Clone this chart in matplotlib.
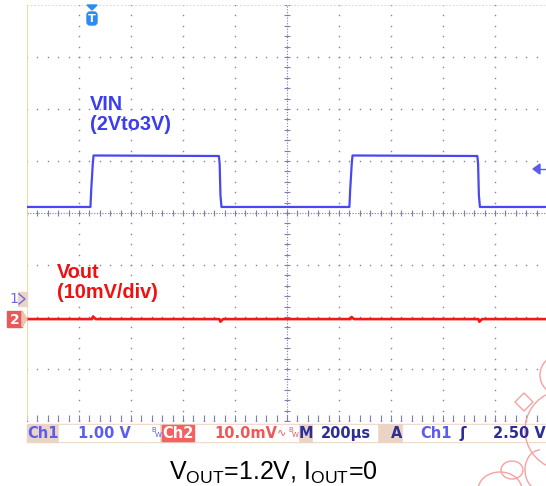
import numpy as np
import matplotlib.pyplot as plt
from matplotlib.patches import Rectangle, Polygon, FancyBboxPatch, Arc, Ellipse

# ---- waveform data (time in us, trigger at t=0) ----
t_vin = [-250, -6, -3, 3, 6, 488, 491, 494, 498, 990, 993, 999, 1002,
         1482, 1485, 1488, 1492, 1750]
v_vin = [1.77, 1.77, 2.10, 2.60, 2.76, 2.75, 2.60, 2.00, 1.77, 1.77, 2.10,
         2.60, 2.76, 2.75, 2.60, 2.00, 1.77, 1.77]          # V

t_vout = [-250, 0, 4, 14, 490, 494, 504, 994, 998, 1008, 1486, 1490, 1500, 1750]
v_vout = [0.0, 0.0, 0.5, 0.0, 0.0, -0.5, 0.0, 0.0, 0.4, 0.0, 0.0, -0.5, 0.0, 0.0]  # mV

# scope settings
ch1_scale, ch1_pos = 1.0, -1.654     # V/div, div
ch2_scale, ch2_pos = 10.0, -2.04     # mV/div, div
t_left, t_div = -250, 200            # us

fig = plt.figure(figsize=(5.46, 4.86), dpi=100)
ax = fig.add_axes([27/546, 65/486, 520/546, 416/486])
ax.set_xlim(t_left, t_left + 10*t_div)
ax.set_ylim(-4, 4)
ax.axis('off')

# graticule
gc = '#7e7eb6'
ys_dots = np.arange(-4, 4.001, 0.2)
xs_dots = np.arange(t_left, t_left + 10*t_div + 0.1, t_div/5)
for k in range(1, 11):
    xm = t_left + k*t_div
    ax.plot(np.full_like(ys_dots, xm), ys_dots, ls='none', marker='s', ms=1.0, mew=0, color=gc)
for ym in range(-4, 4):
    ax.plot(xs_dots, np.full_like(xs_dots, ym), ls='none', marker='s', ms=1.0, mew=0, color=gc)
# center cross with minor ticks
xc = t_left + 5*t_div
ax.plot([xc, xc], [-4, 4], color=gc, lw=0.8, ls=(0, (1, 1.5)))
ax.plot([t_left, t_left + 10*t_div], [0, 0], color=gc, lw=0.8, ls=(0, (1, 1.5)))
ax.plot(np.full_like(ys_dots, xc), ys_dots, ls='none', marker='_', ms=5, mew=0.8, color=gc)
ax.plot(xs_dots, np.zeros_like(xs_dots), ls='none', marker='|', ms=5, mew=0.8, color=gc)
ax.plot(xs_dots, np.full_like(xs_dots, -4), ls='none', marker=2, ms=4, mew=0.8, color=gc)
ax.plot([t_left, t_left + 10*t_div], [-4, -4], color=gc, lw=0.8, ls=(0, (1, 1.5)))
# pale yellow frame
ax.plot([t_left, t_left], [-4, 4], color='#e6dc98', lw=1.3)
ax.plot([t_left, t_left + 10*t_div], [4, 4], color='#e6dc98', lw=1.3, ls=(0, (1, 1)))

# traces
ax.plot(t_vin, np.array(v_vin)/ch1_scale + ch1_pos, color='#4848f2', lw=1.6, zorder=5)
ax.plot(t_vout, np.array(v_vout)/ch2_scale + ch2_pos, color='#f01818', lw=1.9, zorder=5)

# ---- overlay in pixel coordinates ----
ov = fig.add_axes([0, 0, 1, 1], zorder=10)
ov.set_xlim(0, 546)
ov.set_ylim(486, 0)
ov.axis('off')
ov.patch.set_alpha(0)

ov.text(90, 95, 'VIN\n(2Vto3V)', color='#3c3cf0', fontsize=14.3, fontweight='bold',
        family='Liberation Sans', va='top', ha='left', linespacing=1.05)
ov.text(57, 263, 'Vout\n(10mV/div)', color='#f01010', fontsize=14.3, fontweight='bold',
        family='Liberation Sans', va='top', ha='left', linespacing=1.05)

# trigger position marker
tb = '#2a8cf0'
ov.add_patch(Polygon([(87, 5), (97, 5), (92, 10)], closed=True, color=tb))
ov.add_patch(FancyBboxPatch((87, 12), 10, 13, boxstyle='round,pad=0,rounding_size=3', color=tb))
ov.text(92, 18.5, 'T', color='white', fontsize=8, fontweight='bold', ha='center', va='center')

# trigger level arrow
ov.add_patch(Polygon([(533, 169), (540, 164), (540, 174)], closed=True, color='#5a5af0'))
ov.plot([540, 546], [169, 169], color='#5a5af0', lw=1)

# channel ground markers
ov.add_patch(Rectangle((18, 292), 9, 14, color='#ecd4c4'))
ov.text(9, 299, '1', color='#6a6af0', fontsize=10, ha='left', va='center')
ov.plot([19, 25, 19], [294, 299, 304], color='#6a6af0', lw=1)
ov.add_patch(Rectangle((7, 311), 15, 16, color='#e85a5a'))
ov.add_patch(Polygon([(22, 311), (27, 319), (22, 327)], closed=True, color='#ecc4b4'))
ov.text(14.5, 319.5, '2', color='white', fontsize=10, fontweight='bold', ha='center', va='center')

# status bar
tan = '#ecd4c4'
blue_t = '#5c5cf0'
navy = '#2d2d96'
red_t = '#f05858'
ov.add_patch(Rectangle((27, 424), 519, 18, color=tan))
for x0, w in [(59, 100), (195, 103), (313, 64), (403, 143)]:
    ov.add_patch(Rectangle((x0, 425), w, 16, color='white'))
ov.add_patch(Rectangle((162, 425), 32, 16, color='#f26262'))
sb = dict(fontsize=10.5, fontweight='bold', va='center')
ov.text(27, 433, 'Ch1', color=blue_t, ha='left', **sb)
ov.text(78, 433, '1.00 V', color=blue_t, ha='left', **sb)
ov.text(151, 430, 'B', color=blue_t, fontsize=5, ha='left', va='center')
ov.text(155, 435, 'W', color=blue_t, fontsize=5, ha='left', va='center')
ov.text(178, 433, 'Ch2', color='white', ha='center', **sb)
ov.text(214, 433, '10.0mV', color=red_t, ha='left', **sb)
ov.text(277, 432, '\u223f', color=red_t, fontsize=8, ha='left', va='center')
ov.text(288, 430, 'B', color=red_t, fontsize=5, ha='left', va='center')
ov.text(292, 435, 'W', color=red_t, fontsize=5, ha='left', va='center')
ov.text(306, 433, 'M', color=navy, ha='center', **sb)
ov.text(321, 433, '200\u00b5s', color=navy, ha='left', **sb)
ov.text(397, 433, 'A', color=navy, ha='center', **sb)
ov.text(420, 433, 'Ch1', color=blue_t, ha='left', **sb)
ov.text(463, 433, '\u0283', color=navy, ha='center', fontsize=11, fontweight='bold', va='center')
ov.text(493, 433, '2.50 V', color=navy, ha='left', **sb)

# caption
ov.text(273, 480, r'V$\mathregular{_{OUT}}$=1.2V, I$\mathregular{_{OUT}}$=0', color='black',
        fontsize=18, family='Liberation Sans', ha='center', va='baseline')

# faint watermark outline
wm = '#f4a2a2'
ov.add_patch(Polygon([(524, 393), (533, 402), (524, 411), (515, 402)], closed=True,
                     fill=False, ec=wm, lw=1))
ov.add_patch(Arc((565, 430), 80, 80, theta1=110, theta2=250, ec=wm, lw=1))
ov.add_patch(Arc((560, 375), 40, 40, theta1=120, theta2=260, ec=wm, lw=1))
ov.add_patch(Ellipse((512, 470), 22, 18, fill=False, ec=wm, lw=1))
ov.add_patch(Arc((500, 490), 44, 36, theta1=180, theta2=360, ec=wm, lw=1))
ov.add_patch(Arc((540, 470), 30, 40, theta1=90, theta2=270, ec=wm, lw=1))

fig.savefig('out.png', dpi=100)
